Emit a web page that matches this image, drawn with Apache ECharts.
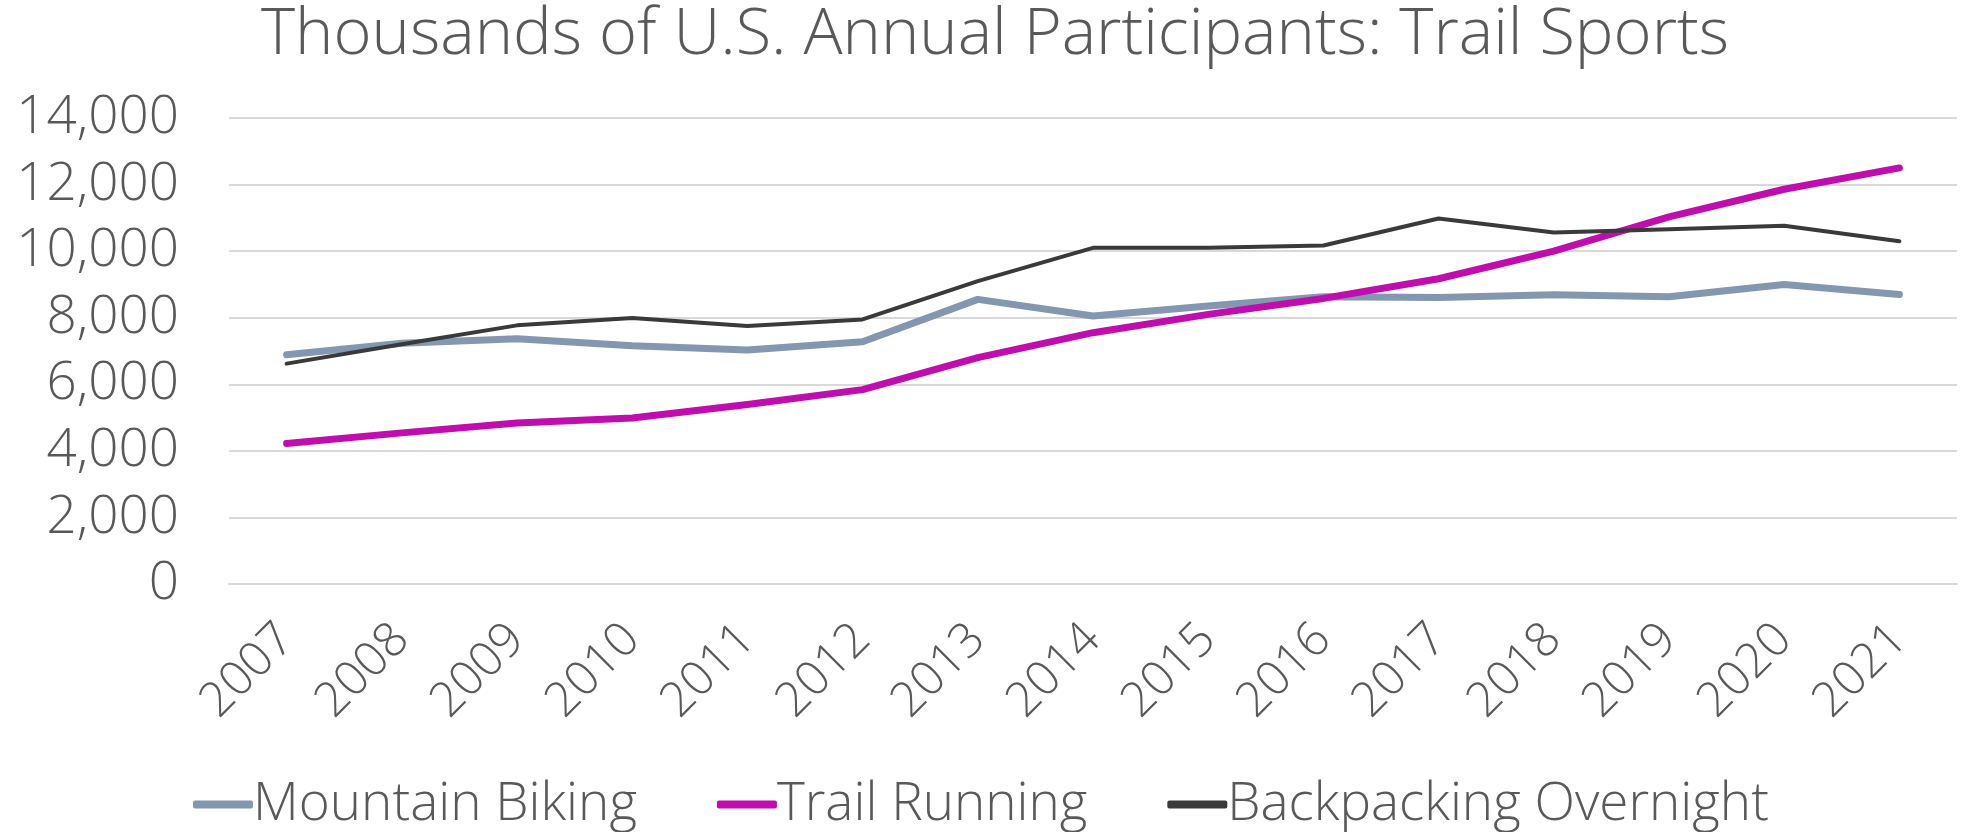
<!DOCTYPE html>
<html>
<head>
<meta charset="utf-8">
<script src="https://cdn.jsdelivr.net/npm/echarts@6/dist/echarts.min.js"></script>
<style>
  html, body { margin: 0; padding: 0; background: #fff; }
  #chart { width: 1964px; height: 832px; }
</style>
</head>
<body>
<div id="chart"></div>
<script>
var years = ["2007", "2008", "2009", "2010", "2011", "2012", "2013", "2014",
  "2015", "2016", "2017", "2018", "2019", "2020", "2021"];
var mountainBiking = [6890, 7230, 7370, 7160, 7030, 7280, 8550, 8050,
  8350, 8630, 8610, 8690, 8630, 9000, 8700];
var trailRunning = [4220, 4540, 4840, 4990, 5390, 5840, 6800, 7550,
  8100, 8580, 9170, 10000, 11030, 11860, 12500];
var backpacking = [6620, 7200, 7770, 7990, 7750, 7950, 9100, 10100,
  10100, 10170, 10980, 10560, 10660, 10760, 10300];
var yTicks = [0, 2000, 4000, 6000, 8000, 10000, 12000, 14000];

var textColor = "#595959";
var fontFamily = "'Open Sans', Lato, sans-serif";

var chart = echarts.init(document.getElementById("chart"));
var option = {
  animation: false,
  color: ["#8497B0", "#C00DAE", "#3A3A3A"],
  textStyle: { fontFamily: fontFamily, color: textColor },
  title: {
    text: "Thousands of U.S. Annual Participants: Trail Sports",
    left: 990,
    textAlign: "center",
    top: -2,
    textStyle: { fontSize: 65, fontWeight: 300, color: textColor, fontFamily: fontFamily },
  },
  legend: {
    data: ["Mountain Biking", "Trail Running", "Backpacking Overnight"],
    icon: "roundRect",
    bottom: -4,
    left: 188,
    itemWidth: 60,
    itemHeight: 8,
    itemGap: 80,
    textStyle: { fontSize: 53, fontWeight: 300, color: textColor, padding: [0, 0, 0, -5] },
  },
  grid: {
    left: 229,
    right: 7,
    top: 118,
    bottom: 248,
    containLabel: false,
  },
  xAxis: {
    type: "category",
    data: years,
    boundaryGap: true,
    axisLine: { show: true, lineStyle: { color: "#D9D9D9", width: 2 } },
    axisTick: { show: false },
    axisLabel: {
      rotate: 45,
      margin: 48,
      fontSize: 48,
      fontWeight: 300,
      color: textColor,
      interval: 0,
    },
  },
  yAxis: {
    type: "value",
    min: yTicks[0],
    max: yTicks[yTicks.length - 1],
    interval: 2000,
    axisLine: { show: false },
    axisTick: { show: false },
    splitLine: { lineStyle: { color: "#D9D9D9", width: 2 } },
    axisLabel: {
      margin: 50,
      fontSize: 53,
      fontWeight: 300,
      color: textColor,
      formatter: function (v) {
        return v.toLocaleString("en-US");
      },
    },
  },
  series: [
    {
      name: "Mountain Biking",
      type: "line",
      data: mountainBiking,
      showSymbol: false,
      lineStyle: { width: 7, cap: "round", join: "round" },
    },
    {
      name: "Trail Running",
      type: "line",
      data: trailRunning,
      showSymbol: false,
      lineStyle: { width: 7, cap: "round", join: "round" },
    },
    {
      name: "Backpacking Overnight",
      type: "line",
      data: backpacking,
      showSymbol: false,
      lineStyle: { width: 4, cap: "round", join: "round" },
    },
  ],
};
chart.setOption(option);
</script>
</body>
</html>
